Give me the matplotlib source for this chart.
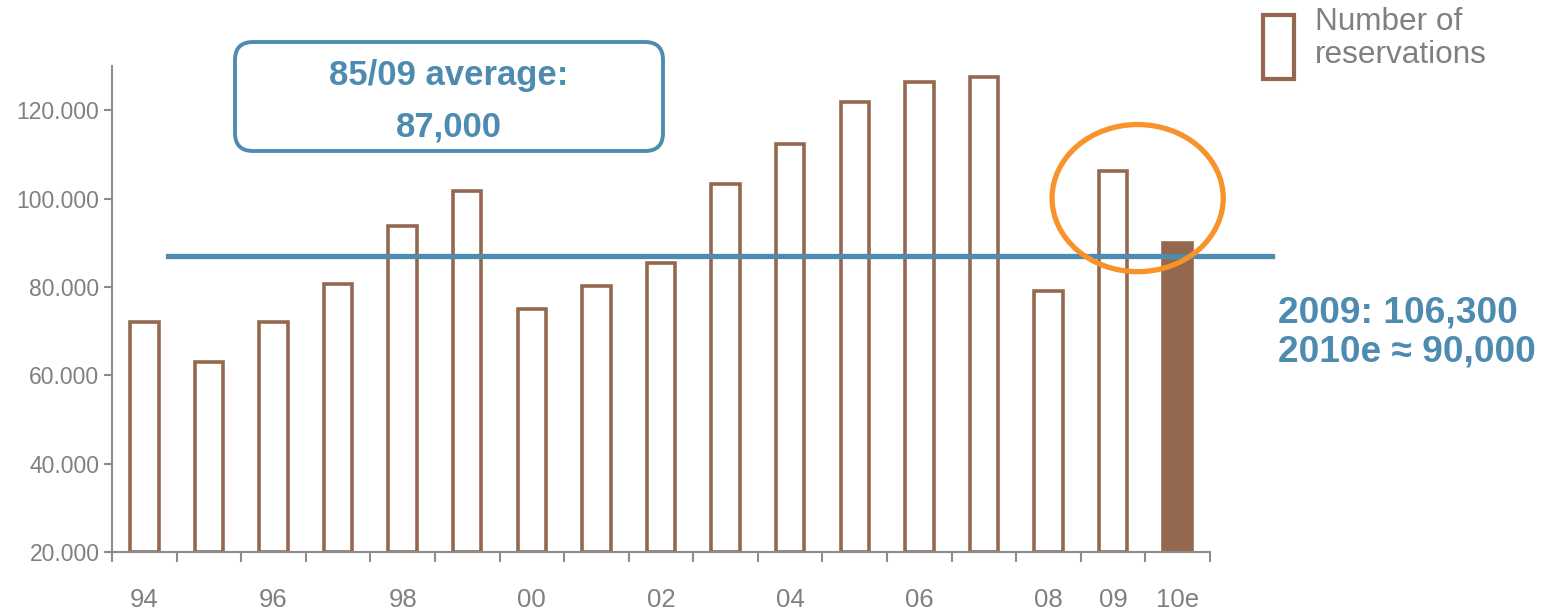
import matplotlib
matplotlib.use("Agg")
import matplotlib.pyplot as plt
from matplotlib.patches import Ellipse, FancyBboxPatch, Rectangle
from matplotlib.transforms import IdentityTransform

# Reservations per year (last one is an estimate)
years = ["94", "95", "96", "97", "98", "99", "00", "01", "02", "03",
         "04", "05", "06", "07", "08", "09", "10e"]
reservations = [72000, 63000, 72000, 80600, 93800, 101700, 75000, 80200, 85400,
                103300, 112300, 121800, 126300, 127500, 79000, 106300, 90000]
labelled_years = ["94", "96", "98", "00", "02", "04", "06", "08", "09", "10e"]
average = 87000
y_ticks = [20000, 40000, 60000, 80000, 100000, 120000]

BROWN = "#93684f"
BLUE = "#4e8bb1"
ORANGE = "#f8922a"
GREY = "#808080"

plt.rcParams["font.family"] = ["Liberation Sans", "DejaVu Sans"]

W, H = 1553, 612
fig = plt.figure(figsize=(W / 100, H / 100), dpi=100)
ax = fig.add_axes([112 / W, 1 - 552 / H, (1210 - 112) / W, (552 - 66) / H])

ymin, ymax = 20000, 130000
x = list(range(len(years)))
heights = [v - ymin for v in reservations]
faces = ["white"] * (len(years) - 1) + [BROWN]
ax.bar(x, heights, bottom=ymin, width=0.44, color=faces, edgecolor=BROWN,
       linewidth=2.6, zorder=2)

ax.set_xlim(-0.5, len(years) - 0.5)
ax.set_ylim(ymin, ymax)

# average line runs past both ends of the plot
ax.plot([0.37, 17.46], [average, average], color=BLUE, lw=3.8, clip_on=False, zorder=3)

# highlight around 2009 / 2010e
ax.add_patch(Ellipse((15.38, 100100), 2.65, 33300, fill=False, edgecolor=ORANGE,
                     lw=3.8, clip_on=False, zorder=4))

for s in ["top", "right"]:
    ax.spines[s].set_visible(False)
for s in ["left", "bottom"]:
    ax.spines[s].set_color("#8c8c8c")
    ax.spines[s].set_linewidth(1.5)

ax.set_yticks(y_ticks)
ax.set_yticklabels([f"{v:,}".replace(",", ".") for v in y_ticks])
ax.tick_params(axis="y", direction="out", length=6, width=1.5, color="#8c8c8c",
               labelsize=16.5, labelcolor=GREY, pad=3)

ax.set_xticks([years.index(y) for y in labelled_years])
ax.set_xticklabels(labelled_years)
ax.set_xticks([i - 0.5 for i in range(len(years) + 1)], minor=True)
ax.tick_params(axis="x", which="major", length=0, labelsize=18.5, labelcolor=GREY, pad=26)
ax.tick_params(axis="x", which="minor", direction="out", length=7, width=1.5, color="#8c8c8c")


def fx(px):
    return px / W


def fy(py):
    return 1 - py / H


# rounded callout box with the average
box = FancyBboxPatch((235, H - 151), 428, 109, boxstyle="round,pad=0,rounding_size=18",
                     transform=IdentityTransform(), fill=False, edgecolor=BLUE, lw=2.8)
fig.add_artist(box)
fig.text(fx(449), fy(75), "85/09 average:", color=BLUE, fontsize=25, fontweight="bold",
         ha="center", va="center")
fig.text(fx(449), fy(127), f"{average:,}", color=BLUE, fontsize=25, fontweight="bold",
         ha="center", va="center")

# figures for 2009 and the 2010 estimate
fig.text(fx(1278), fy(313), f"2009: {reservations[-2]:,}", color=BLUE, fontsize=26.7,
         fontweight="bold", ha="left", va="center")
fig.text(fx(1278), fy(352), f"2010e \u2248 {reservations[-1]:,}", color=BLUE, fontsize=26.7,
         fontweight="bold", ha="left", va="center")

# legend
fig.add_artist(Rectangle((1263, H - 79), 31, 64, transform=IdentityTransform(),
                         fill=False, edgecolor=BROWN, lw=3))
fig.text(fx(1315), fy(22), "Number of", color=GREY, fontsize=22.7, ha="left", va="center")
fig.text(fx(1315), fy(55), "reservations", color=GREY, fontsize=22.7, ha="left", va="center")

fig.savefig("out.png", dpi=100)
